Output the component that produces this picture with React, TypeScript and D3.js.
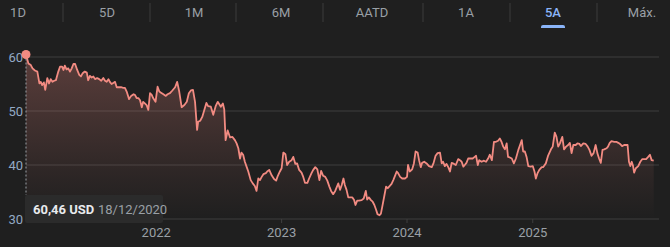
import React from "react";
import * as d3 from "d3";

// Range tabs
const tabs = ["1D", "5D", "1M", "6M", "AATD", "1A", "5A", "Máx."];
const activeTab = "5A";

// Price axis ticks and year ticks
const priceTicks = [30, 40, 50, 60];
const yearTicks = [2022, 2023, 2024, 2025];

// Series start date and [days since start, close price in USD]
const startDate = new Date(2020, 11, 18);
const series: [number, number][] = [
  [0, 60.46], [7, 58.8], [14, 58.5], [19, 57.9], [26, 57.5], [33, 57.3], [39, 55.1], [43, 55.4],
  [47, 54.8], [52, 55.3], [56, 53.9], [62, 56.1], [67, 55.1], [72, 55.9], [77, 55.4], [82, 55.6],
  [87, 55.7], [94, 57.3], [99, 58.2], [105, 58.2], [109, 57.6], [113, 58.4], [118, 57.7], [123, 57.9],
  [128, 57.3], [133, 57.9], [138, 58.7], [143, 58.7], [149, 57.6], [155, 56.7], [160, 56.4], [165, 57.0],
  [171, 57.3], [177, 57.1], [181, 55.7], [186, 56.5], [191, 56.2], [196, 56.4], [201, 55.9], [207, 56.1],
  [213, 55.9], [219, 55.6], [225, 56.1], [230, 55.6], [235, 55.4], [240, 55.9], [244, 55.4], [249, 55.0],
  [254, 55.2], [259, 55.4], [264, 54.4], [271, 54.4], [278, 54.4], [283, 54.3], [288, 54.3], [293, 53.6],
  [300, 52.2], [306, 52.8], [313, 53.1], [317, 53.0], [322, 52.4], [327, 52.4], [332, 52.0], [337, 50.7],
  [341, 51.7], [346, 51.4], [351, 51.1], [356, 50.2], [361, 53.3], [366, 53.0], [370, 52.4], [377, 51.7],
  [383, 54.5], [388, 53.6], [393, 53.4], [400, 53.1], [407, 52.8], [412, 53.1], [419, 53.3], [426, 53.8],
  [434, 54.4], [440, 55.4], [446, 53.6], [453, 50.7], [461, 51.1], [468, 51.7], [474, 53.3], [480, 53.8],
  [486, 53.9], [492, 51.7], [498, 46.5], [501, 48.0], [507, 48.2], [513, 48.9], [519, 50.2], [525, 51.5],
  [530, 50.9], [538, 50.8], [545, 49.3], [552, 50.9], [558, 51.7], [564, 51.1], [567, 50.8], [573, 51.4],
  [577, 50.3], [581, 44.6], [587, 46.4], [594, 45.1], [601, 45.2], [608, 44.6], [613, 44.0], [618, 43.1],
  [623, 41.2], [627, 42.3], [632, 41.9], [637, 40.6], [642, 39.7], [647, 38.8], [654, 37.2], [660, 36.6],
  [666, 36.1], [671, 35.2], [676, 37.5], [681, 37.2], [686, 37.8], [691, 38.3], [698, 38.5], [702, 38.8],
  [708, 39.1], [715, 38.1], [722, 37.4], [728, 37.1], [733, 38.0], [739, 38.8], [744, 39.4], [749, 42.3],
  [755, 42.0], [760, 40.0], [766, 40.6], [773, 40.9], [778, 41.5], [784, 40.2], [789, 40.3], [795, 39.1],
  [802, 38.6], [807, 37.8], [812, 36.7], [819, 36.7], [824, 37.5], [831, 38.5], [836, 39.1], [842, 39.6],
  [848, 39.2], [854, 37.2], [859, 38.9], [865, 38.0], [871, 37.8], [877, 37.1], [883, 36.0], [888, 35.2],
  [894, 34.6], [900, 35.2], [909, 36.6], [914, 35.4], [919, 36.3], [924, 37.5], [928, 36.3], [933, 35.4],
  [938, 34.0], [943, 34.0], [950, 34.0], [955, 33.5], [959, 32.6], [964, 33.4], [969, 33.4], [977, 33.5],
  [983, 33.8], [989, 35.2], [993, 33.6], [998, 34.0], [1004, 33.5], [1009, 33.2], [1014, 32.6], [1019, 31.7],
  [1023, 30.9], [1029, 30.7], [1033, 31.0], [1037, 32.3], [1043, 34.3], [1048, 36.0], [1053, 35.7], [1057, 36.0],
  [1064, 36.5], [1069, 37.2], [1074, 38.0], [1079, 38.8], [1083, 38.5], [1089, 37.8], [1095, 37.5], [1103, 37.5],
  [1109, 37.8], [1112, 40.0], [1117, 38.8], [1124, 39.2], [1129, 40.3], [1134, 42.5], [1140, 42.3], [1144, 40.9],
  [1149, 39.6], [1153, 40.4], [1159, 40.6], [1166, 40.3], [1173, 39.8], [1181, 39.6], [1186, 40.3], [1192, 41.7],
  [1198, 42.2], [1205, 42.3], [1210, 40.3], [1214, 40.6], [1219, 39.8], [1224, 40.2], [1229, 39.6], [1234, 38.8],
  [1239, 40.4], [1246, 40.2], [1251, 40.0], [1258, 41.1], [1263, 40.9], [1268, 40.6], [1273, 39.7], [1277, 40.0],
  [1282, 40.4], [1287, 41.2], [1294, 41.2], [1300, 41.2], [1306, 41.5], [1310, 41.7], [1315, 40.0], [1319, 40.9],
  [1326, 40.6], [1333, 40.8], [1339, 40.6], [1345, 41.2], [1350, 41.9], [1356, 40.9], [1362, 44.3], [1368, 44.3],
  [1374, 44.5], [1379, 44.9], [1384, 44.3], [1389, 43.4], [1394, 42.9], [1399, 44.0], [1403, 41.5], [1408, 41.4],
  [1414, 41.2], [1420, 40.3], [1426, 41.2], [1433, 42.8], [1438, 43.7], [1443, 44.6], [1447, 42.5], [1452, 42.5],
  [1457, 41.5], [1462, 39.8], [1469, 39.7], [1475, 39.8], [1480, 38.8], [1484, 37.5], [1489, 38.5], [1494, 39.1],
  [1501, 39.6], [1505, 39.6], [1513, 40.3], [1520, 41.8], [1528, 42.9], [1533, 43.4], [1539, 46.0], [1544, 45.2],
  [1549, 43.4], [1554, 44.0], [1561, 45.2], [1566, 42.9], [1572, 43.4], [1578, 43.7], [1583, 44.1], [1588, 42.2],
  [1593, 43.7], [1600, 43.7], [1605, 44.0], [1611, 43.9], [1615, 43.5], [1622, 44.0], [1629, 43.9], [1635, 43.4],
  [1640, 42.8], [1646, 41.7], [1652, 42.2], [1658, 43.7], [1663, 42.2], [1668, 41.2], [1673, 40.4], [1678, 42.8],
  [1683, 42.9], [1690, 43.1], [1694, 43.4], [1699, 44.1], [1704, 44.4], [1712, 44.3], [1718, 44.3], [1724, 44.1],
  [1729, 43.9], [1735, 43.5], [1741, 43.7], [1747, 43.7], [1751, 43.7], [1755, 40.6], [1759, 39.8], [1763, 40.6],
  [1767, 39.8], [1770, 38.6], [1775, 39.4], [1782, 39.8], [1788, 40.6], [1794, 41.1], [1799, 41.1], [1805, 41.1],
  [1811, 41.5], [1816, 41.9], [1821, 40.9], [1827, 40.8],
];

const tooltipPrice = "60,46 USD";
const tooltipDate = "18/12/2020";

const W = 670;
const H = 247;
const FONT = "Roboto, 'Noto Sans', sans-serif";
const LINE = "#f28b82";

export default function App() {
  const data = series.map(([d, v]) => ({ date: d3.timeDay.offset(startDate, d), v }));
  const lastDate = data[data.length - 1].date;

  const x = d3.scaleTime().domain([startDate, lastDate]).range([26, 653.7]);
  const y = d3.scaleLinear().domain([30, 60]).range([219, 57]);

  const line = d3.line<{ date: Date; v: number }>().x((d) => x(d.date)).y((d) => y(d.v));
  const area = d3
    .area<{ date: Date; v: number }>()
    .x((d) => x(d.date))
    .y0(y(30))
    .y1((d) => y(d.v));

  const tabScale = d3.scalePoint<string>().domain(tabs).range([18, 643]);
  const tabCenters = [18, 107, 194, 281, 372, 466, 553, 642];
  const dividers = [63, 150, 236, 323, 423, 510, 597];

  const first = data[0];

  return (
    <svg
      width={W}
      height={H}
      style={{ position: "absolute", left: 0, top: 0, display: "block", background: "#1f1f1f" }}
      fontFamily={FONT}
    >
      <defs>
        <linearGradient id="fillGrad" gradientUnits="userSpaceOnUse" x1="0" y1={y(60)} x2="0" y2={y(30)}>
          <stop offset="0" stopColor={LINE} stopOpacity={0.28} />
          <stop offset="0.75" stopColor={LINE} stopOpacity={0.06} />
          <stop offset="1" stopColor={LINE} stopOpacity={0} />
        </linearGradient>
      </defs>
      <rect x={0} y={0} width={W} height={H} fill="#1f1f1f" />

      {/* tabs */}
      {tabs.map((t, i) => (
        <text
          key={t}
          x={tabCenters[i] ?? tabScale(t)}
          y={17}
          textAnchor="middle"
          fontSize={13}
          fontWeight={t === activeTab ? 500 : 400}
          fill={t === activeTab ? "#8ab4f8" : "#9aa0a6"}
        >
          {t}
        </text>
      ))}
      {dividers.map((dx) => (
        <line key={dx} x1={dx} x2={dx} y1={3} y2={22} stroke="#3c3c3c" strokeWidth={1} />
      ))}
      <path
        d={`M${553 - 12},28 L${553 - 12},27 Q${553 - 12},25 ${553 - 10},25 L${553 + 10},25 Q${553 + 12},25 ${553 + 12},27 L${553 + 12},28 Z`}
        fill="#8ab4f8"
      />

      {/* grid */}
      {priceTicks.map((p) => (
        <g key={p}>
          <line x1={26} x2={659} y1={y(p)} y2={y(p)} stroke="#3f3f3f" strokeWidth={1} />
          <text x={23} y={y(p) + 4.5} textAnchor="end" fontSize={13} fill="#93a9c4">
            {p}
          </text>
        </g>
      ))}
      {yearTicks.map((yr) => {
        const xx = x(new Date(yr, 0, 1));
        return (
          <g key={yr}>
            <line x1={xx} x2={xx} y1={y(30)} y2={y(30) + 4} stroke="#3f3f3f" strokeWidth={1} />
            <text x={xx} y={237} textAnchor="middle" fontSize={13} fill="#9aa0a6">
              {yr}
            </text>
          </g>
        );
      })}

      {/* series */}
      <path d={area(data) ?? ""} fill="url(#fillGrad)" />
      <path d={line(data) ?? ""} fill="none" stroke={LINE} strokeWidth={1.8} strokeLinejoin="round" />

      {/* hover marker */}
      <line
        x1={x(first.date)}
        x2={x(first.date)}
        y1={y(first.v)}
        y2={195}
        stroke="#9aa0a6"
        strokeWidth={1}
        strokeDasharray="2,2"
      />
      <circle cx={x(first.date)} cy={y(first.v)} r={4.5} fill={LINE} />

      {/* tooltip */}
      <rect x={25} y={195} width={138} height={28} rx={2} fill="#2b2b2b" />
      <text x={33} y={214} fontSize={13} fontWeight={700} fill="#e8eaed">
        {tooltipPrice}
      </text>
      <text x={98} y={214} fontSize={13} fill="#9aa0a6">
        {tooltipDate}
      </text>
    </svg>
  );
}
